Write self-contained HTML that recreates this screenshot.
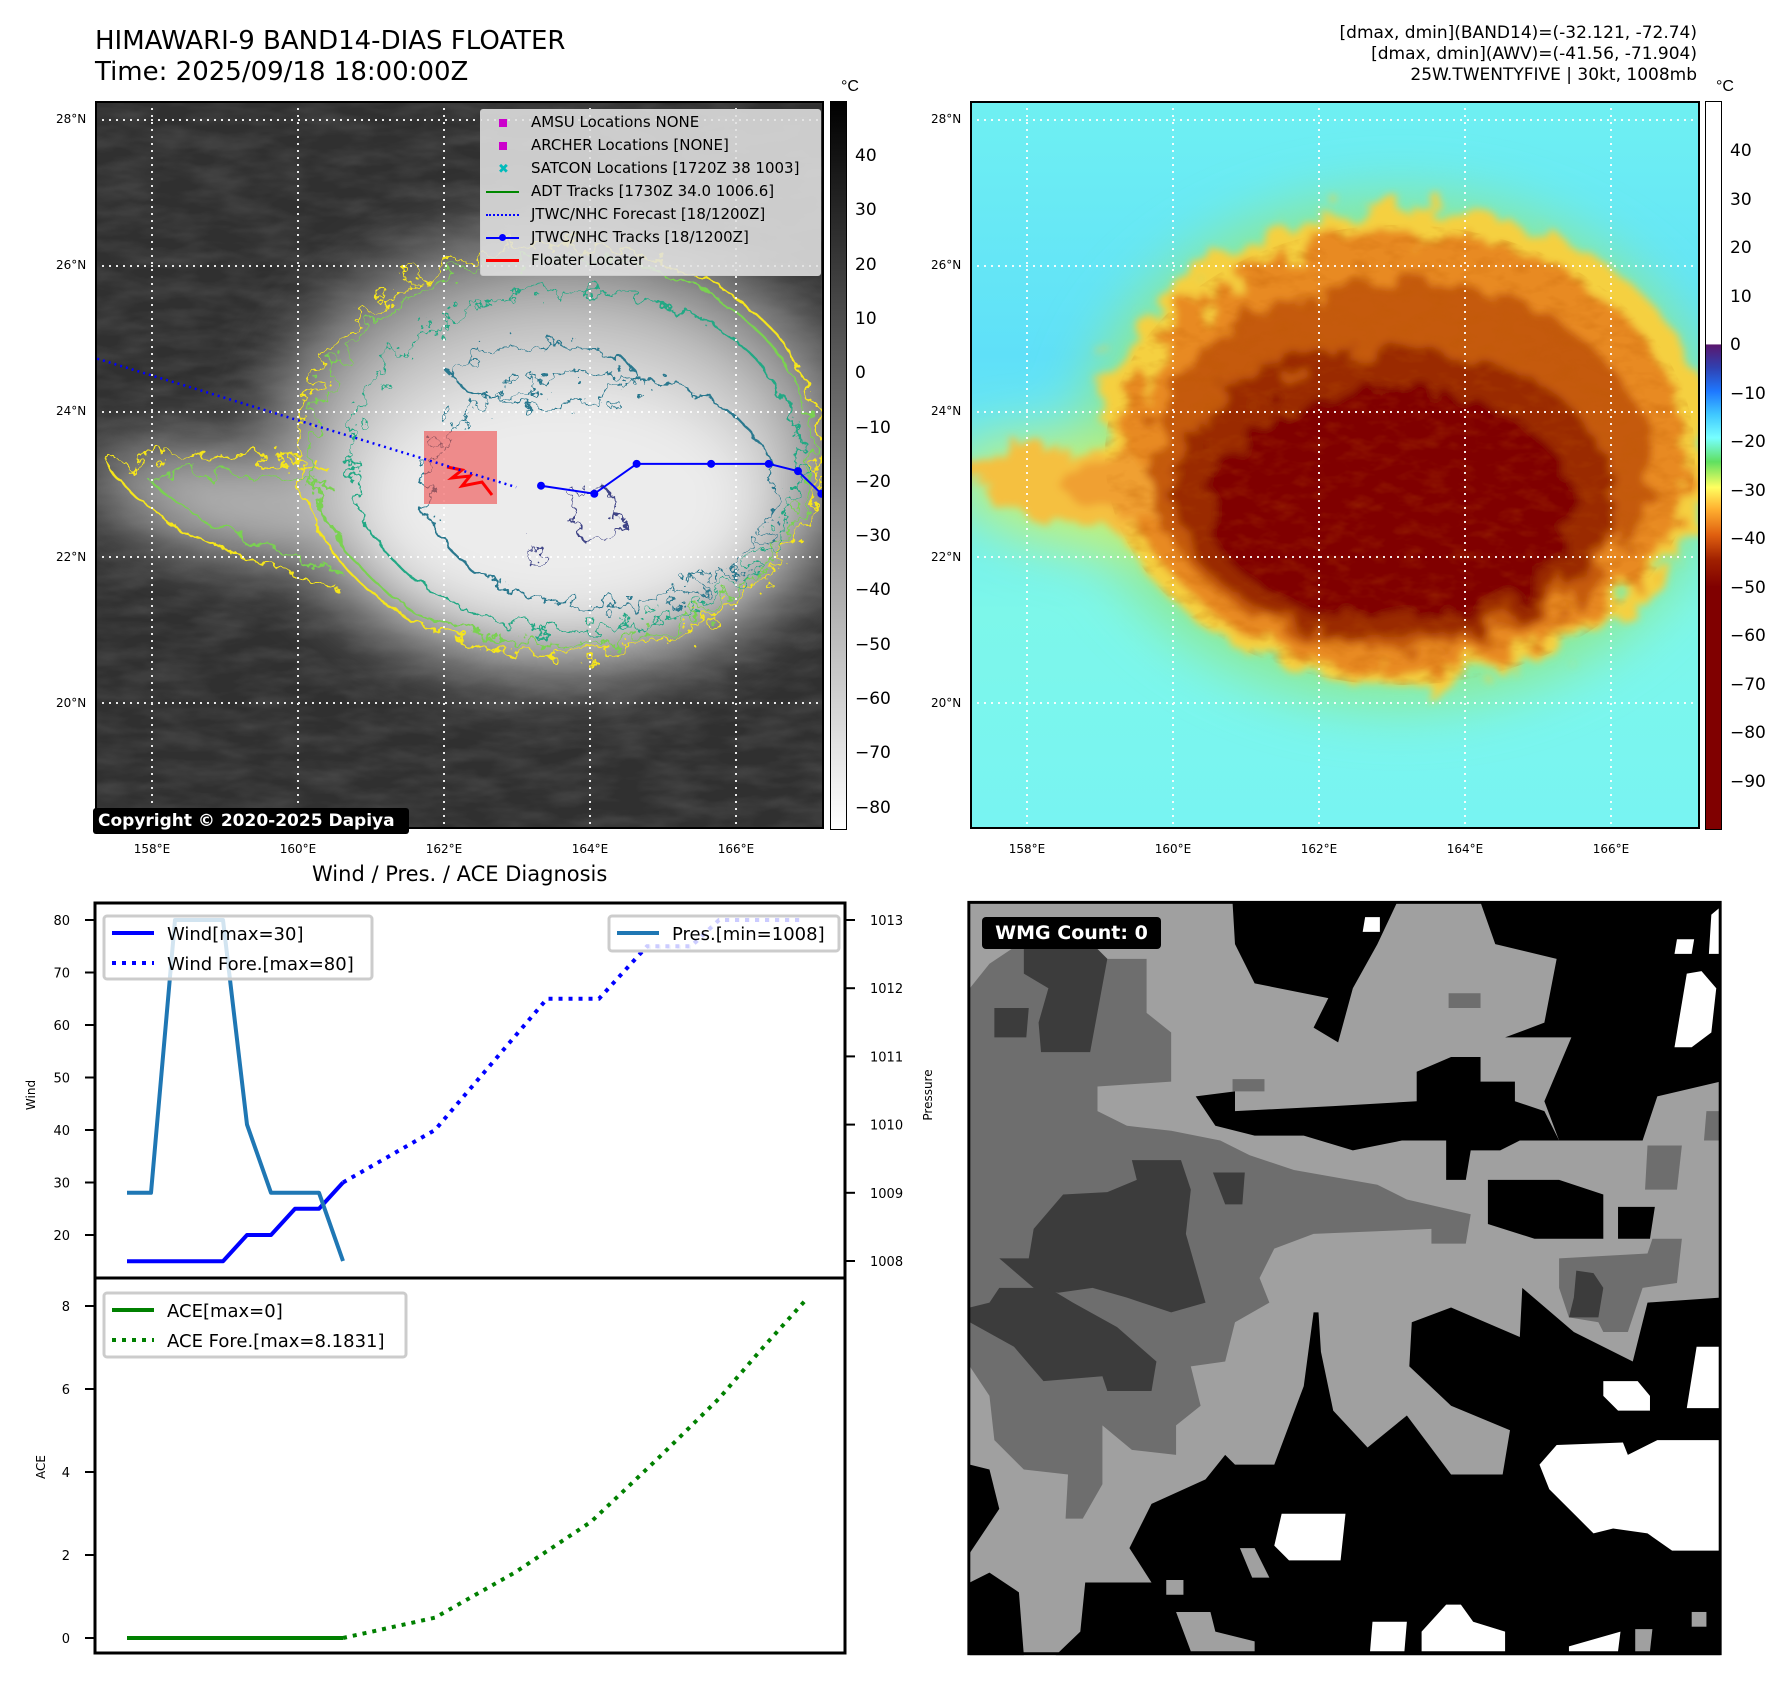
<!DOCTYPE html>
<html><head><meta charset="utf-8">
<style>
html,body{margin:0;padding:0;background:#fff;}
body{width:1788px;height:1690px;position:relative;overflow:hidden;font-family:"Liberation Sans","DejaVu Sans",sans-serif;}
.t{position:absolute;white-space:nowrap;color:#000;}
svg{position:absolute;overflow:hidden;}
</style></head>
<body>
<div class="t" style="left:95px;top:26px;font-size:26px;line-height:31px;font-family:'DejaVu Sans',sans-serif;">HIMAWARI-9 BAND14-DIAS FLOATER<br>Time: 2025/09/18 18:00:00Z</div>
<div class="t" style="right:91px;top:23px;font-size:17px;line-height:21px;text-align:right;font-family:'DejaVu Sans',sans-serif;">[dmax, dmin](BAND14)=(-32.121, -72.74)<br>[dmax, dmin](AWV)=(-41.56, -71.904)<br>25W.TWENTYFIVE | 30kt, 1008mb</div>

<!-- LEFT MAP -->
<svg style="left:95px;top:101px" width="729" height="728" viewBox="95 101 729 728">
<defs>
<filter id="b30" x="-50%" y="-50%" width="200%" height="200%"><feGaussianBlur stdDeviation="30"/></filter>
<filter id="wig" x="-20%" y="-20%" width="140%" height="140%"><feTurbulence type="fractalNoise" baseFrequency="0.05" numOctaves="4" seed="3"/><feDisplacementMap in="SourceGraphic" scale="40"/></filter>
<filter id="wig2" x="-20%" y="-20%" width="140%" height="140%"><feTurbulence type="fractalNoise" baseFrequency="0.06" numOctaves="4" seed="8"/><feDisplacementMap in="SourceGraphic" scale="45"/></filter>
<filter id="tex" x="0" y="0" width="100%" height="100%"><feTurbulence type="fractalNoise" baseFrequency="0.02 0.06" numOctaves="3" seed="5"/><feColorMatrix type="matrix" values="0 0 0 0 1  0 0 0 0 1  0 0 0 0 1  0.9 0 0 0 -0.3"/></filter>
</defs>
<rect x="95" y="101" width="729" height="728" fill="#303030"/>
<rect x="95" y="101" width="729" height="728" filter="url(#tex)" opacity="0.2"/>
<g filter="url(#b30)">
<ellipse cx="560" cy="455" rx="300" ry="230" fill="#8a8a8a"/>
<ellipse cx="230" cy="505" rx="150" ry="55" fill="#8a8a8a" transform="rotate(12 230 505)"/>
<ellipse cx="560" cy="470" rx="240" ry="175" fill="#c8c8c8"/>
<ellipse cx="250" cy="505" rx="110" ry="35" fill="#b8b8b8" transform="rotate(12 250 505)"/>
<ellipse cx="560" cy="500" rx="200" ry="125" fill="#ececec"/>
</g>
<g fill="none" stroke-width="2.2">
<g filter="url(#wig)">
<ellipse cx="560" cy="450" rx="262" ry="205" stroke="#f5e51b"/>
<path d="M330 470 C250 450 160 450 110 465 C130 510 230 560 340 590" stroke="#f5e51b"/>
<ellipse cx="562" cy="452" rx="250" ry="195" stroke="#7ad151"/>
<path d="M330 485 C260 470 190 470 150 480 C180 515 250 545 340 570" stroke="#7ad151"/>
</g>
<g filter="url(#wig2)">
<ellipse cx="575" cy="460" rx="225" ry="170" stroke="#22a884"/>
<ellipse cx="600" cy="490" rx="175" ry="115" stroke="#2a788e"/>
<ellipse cx="545" cy="375" rx="90" ry="30" stroke="#2a788e"/>
<ellipse cx="595" cy="515" rx="22" ry="30" stroke="#414487"/>
<ellipse cx="535" cy="555" rx="12" ry="8" stroke="#414487"/>
</g>
</g>
<g stroke="#fff" stroke-width="2" stroke-dasharray="2 5" opacity="0.9">
<line x1="95" y1="120" x2="824" y2="120"/><line x1="95" y1="266" x2="824" y2="266"/><line x1="95" y1="412" x2="824" y2="412"/><line x1="95" y1="557" x2="824" y2="557"/><line x1="95" y1="703" x2="824" y2="703"/>
<line x1="152" y1="101" x2="152" y2="829"/><line x1="298" y1="101" x2="298" y2="829"/><line x1="444" y1="101" x2="444" y2="829"/><line x1="590" y1="101" x2="590" y2="829"/><line x1="736" y1="101" x2="736" y2="829"/>
</g>
<rect x="424" y="431" width="73" height="73" fill="rgba(240,60,60,0.55)"/>
<path d="M447 467 L462 470 L452 478 L470 476 L462 486 L482 482 L492 495" fill="none" stroke="#f00" stroke-width="3"/>
<g id="trackLayer"></g>
<rect x="96" y="102" width="727" height="726" fill="none" stroke="#000" stroke-width="2"/>
</svg>
<div style="position:absolute;left:480px;top:109px;width:339px;height:165px;background:rgba(225,225,225,0.88);border:1px solid #ccc;border-radius:3px;font-size:15px;font-family:'DejaVu Sans',sans-serif;">
<div class="t" style="left:18px;top:3px;"><span style="display:inline-block;width:8px;height:8px;background:#c0c;margin-right:24px;"></span>AMSU Locations NONE</div>
<div class="t" style="left:18px;top:26px;"><span style="display:inline-block;width:8px;height:8px;background:#c0c;margin-right:24px;"></span>ARCHER Locations [NONE]</div>
<div class="t" style="left:17px;top:49px;"><span style="display:inline-block;width:12px;color:#0bb;font-weight:bold;font-size:13px;margin-right:21px;">✖</span>SATCON Locations [1720Z 38 1003]</div>
<div class="t" style="left:5px;top:72px;"><span style="display:inline-block;width:33px;height:2px;background:#080;vertical-align:middle;margin-right:12px;"></span>ADT Tracks [1730Z 34.0 1006.6]</div>
<div class="t" style="left:5px;top:95px;"><span style="display:inline-block;width:33px;border-top:2px dotted #00f;vertical-align:middle;margin-right:12px;"></span>JTWC/NHC Forecast [18/1200Z]</div>
<div class="t" style="left:5px;top:118px;"><span style="display:inline-block;width:33px;height:2px;background:#00f;vertical-align:middle;margin-right:12px;position:relative;"><span style="position:absolute;left:13px;top:-3px;width:7px;height:7px;border-radius:50%;background:#00f;"></span></span>JTWC/NHC Tracks [18/1200Z]</div>
<div class="t" style="left:5px;top:141px;"><span style="display:inline-block;width:33px;height:3px;background:#f00;vertical-align:middle;margin-right:12px;"></span>Floater Locater</div>
</div>
<div class="t" style="left:93px;top:808px;width:316px;height:26px;background:#000;color:#fff;font-weight:bold;font-size:17px;line-height:26px;border-radius:3px;padding-left:5px;box-sizing:border-box;font-family:'DejaVu Sans',sans-serif;">Copyright © 2020-2025 Dapiya</div>
<div style="position:absolute;left:830px;top:101px;width:15px;height:727px;border:1px solid #000;background:linear-gradient(#000,#fff);"></div>
<div class="t" style="left:841px;top:78px;font-size:16px;">°C</div>

<!-- RIGHT MAP -->
<svg style="left:970px;top:101px" width="730" height="728" viewBox="970 101 730 728">
<defs>
<linearGradient id="cy" x1="0" y1="0" x2="0" y2="1"><stop offset="0" stop-color="#6ff0f2"/><stop offset="0.35" stop-color="#5fe0f8"/><stop offset="0.7" stop-color="#7df7ea"/><stop offset="1" stop-color="#78f4f2"/></linearGradient>
<filter id="rb30" x="-50%" y="-50%" width="200%" height="200%"><feGaussianBlur stdDeviation="28"/></filter>
<filter id="rwig" x="-20%" y="-20%" width="140%" height="140%"><feTurbulence type="fractalNoise" baseFrequency="0.035" numOctaves="4" seed="11"/><feDisplacementMap in="SourceGraphic" scale="55"/><feGaussianBlur stdDeviation="4"/></filter>
<filter id="rtex" x="0" y="0" width="100%" height="100%"><feTurbulence type="fractalNoise" baseFrequency="0.04 0.08" numOctaves="3" seed="21"/><feColorMatrix type="matrix" values="0 0 0 0 0.5  0 0 0 0 0.1  0 0 0 0 0  1.2 0 0 0 -0.55"/></filter>
<clipPath id="cloudclip"><ellipse cx="1400" cy="455" rx="295" ry="230"/></clipPath>
</defs>
<rect x="970" y="101" width="730" height="728" fill="url(#cy)"/>
<g filter="url(#rb30)">
<ellipse cx="1400" cy="450" rx="320" ry="255" fill="#8fe890"/>
<ellipse cx="1100" cy="495" rx="150" ry="55" fill="#c8f070" transform="rotate(8 1100 495)"/>
</g>
<g filter="url(#rwig)">
<ellipse cx="1405" cy="445" rx="305" ry="240" fill="#f5d040"/>
<ellipse cx="1110" cy="495" rx="140" ry="40" fill="#f5c040" transform="rotate(8 1110 495)"/>
<ellipse cx="1405" cy="452" rx="282" ry="218" fill="#e88a20"/>
<ellipse cx="1150" cy="490" rx="95" ry="28" fill="#f0a030" transform="rotate(8 1150 490)"/>
<ellipse cx="1400" cy="465" rx="250" ry="185" fill="#c55a10"/>
<ellipse cx="1395" cy="495" rx="220" ry="145" fill="#9a2a05"/>
<ellipse cx="1390" cy="505" rx="185" ry="115" fill="#800000"/>
</g>
<rect x="970" y="101" width="730" height="728" filter="url(#rtex)" clip-path="url(#cloudclip)" opacity="0.5"/>
<g stroke="#fff" stroke-width="2" stroke-dasharray="2 5" opacity="0.9">
<line x1="970" y1="120" x2="1700" y2="120"/><line x1="970" y1="266" x2="1700" y2="266"/><line x1="970" y1="412" x2="1700" y2="412"/><line x1="970" y1="557" x2="1700" y2="557"/><line x1="970" y1="703" x2="1700" y2="703"/>
<line x1="1027" y1="101" x2="1027" y2="829"/><line x1="1173" y1="101" x2="1173" y2="829"/><line x1="1319" y1="101" x2="1319" y2="829"/><line x1="1465" y1="101" x2="1465" y2="829"/><line x1="1611" y1="101" x2="1611" y2="829"/>
</g>
<rect x="971" y="102" width="728" height="726" fill="none" stroke="#000" stroke-width="2"/>
</svg>
<div style="position:absolute;left:1705px;top:101px;width:15px;height:727px;border:1px solid #000;background:linear-gradient(#fff 0%,#fff 33.3%,#5a176e 33.4%,#3040b0 36.5%,#1e78ff 39.8%,#40c8ff 43%,#7ff 46.2%,#60e060 49.5%,#ffff60 53%,#ffb030 56%,#e06010 59.5%,#a02000 63%,#800000 66.7%,#800000 100%);"></div>
<div class="t" style="left:1716px;top:78px;font-size:16px;">°C</div>

<!-- diagnosis chart -->
<div class="t" style="left:312px;top:862px;font-size:21px;font-family:'DejaVu Sans',sans-serif;">Wind / Pres. / ACE Diagnosis</div>
<svg id="diag" style="left:0;top:0" width="1000" height="1690"></svg>

<!-- WMG panel -->
<svg style="left:960px;top:895px" width="770" height="770" viewBox="0 0 1568 1568">
<rect x="18" y="15" width="1530" height="1530" fill="#a0a0a0"/>
<g fill="#6e6e6e">
<polygon points="20,190 60,140 120,100 270,100 300,130 380,130 380,240 430,280 430,380 280,390 280,440 340,470 430,480 530,500 590,530 680,560 850,590 910,620 1040,650 1030,710 960,710 960,680 720,690 640,720 610,780 630,830 560,870 540,950 470,960 490,1040 440,1080 440,1140 350,1130 290,1080 290,1200 250,1270 215,1270 220,1180 130,1170 70,1110 60,1020 20,960"/>
<polygon points="1220,740 1400,730 1410,700 1470,700 1460,790 1390,800 1360,890 1310,890 1300,870 1240,860 1220,800"/>
<polygon points="1400,510 1470,510 1460,600 1395,600"/><polygon points="995,200 1060,200 1060,230 995,230"/><polygon points="555,375 620,375 620,400 555,400"/><polygon points="1520,440 1548,440 1548,500 1515,500"/>
</g>
<g fill="#3c3c3c">
<polygon points="130,100 270,100 300,130 265,320 165,320 160,260 180,190 130,160"/>
<polygon points="70,230 140,230 135,290 70,290"/>
<polygon points="350,540 450,540 470,600 460,690 500,830 430,850 340,820 270,800 200,810 150,800 80,740 140,740 150,680 210,610 300,605 360,580"/>
<polygon points="20,840 60,830 80,800 180,800 230,830 320,880 400,950 390,1010 300,1010 290,980 170,990 110,920 20,870"/>
<polygon points="515,565 580,565 575,630 540,630"/>
<polygon points="1255,765 1290,770 1310,800 1300,860 1240,860 1250,820"/>
</g>
<g fill="#000">
<polygon points="555,15 890,15 850,100 800,190 770,300 720,270 750,210 600,180 560,100"/>
<polygon points="1060,15 1548,15 1548,380 1420,410 1390,500 1220,500 1190,420 1245,290 1110,290 1190,260 1215,130 1090,100"/>
<polygon points="480,410 560,400 560,440 760,430 930,420 930,360 1000,330 1060,330 1060,380 1130,380 1130,420 1190,440 1220,500 1140,500 1100,520 1040,520 1030,580 990,580 990,500 900,500 800,520 700,490 600,490 520,470"/>
<polygon points="1075,580 1220,580 1310,610 1310,700 1170,700 1075,670"/>
<polygon points="1340,635 1415,635 1405,700 1340,700"/>
<polygon points="1548,820 1400,830 1370,950 1250,890 1145,800 1140,900 1000,840 920,870 915,960 1000,1040 1120,1090 1105,1180 1000,1180 910,1060 830,1125 760,1050 735,930 730,850 720,850 700,1000 640,1160 560,1160 540,1140 500,1190 390,1240 345,1330 390,1400 255,1400 245,1500 195,1548 1548,1548"/>
<polygon points="20,1160 60,1170 80,1250 20,1340"/>
<polygon points="20,1400 60,1380 120,1420 130,1548 20,1548"/>
</g>
<g fill="#a0a0a0"><polygon points="440,1460 510,1460 520,1500 600,1520 600,1540 470,1540"/><polygon points="420,1395 455,1395 455,1425 420,1425"/><polygon points="570,1330 600,1330 630,1390 595,1390"/><polygon points="1375,1495 1410,1495 1405,1540 1375,1540"/><polygon points="1490,1460 1520,1460 1520,1490 1490,1490"/></g>
<g fill="#fff">
<polygon points="1215,1120 1350,1115 1360,1140 1420,1110 1548,1110 1548,1335 1450,1335 1400,1300 1330,1290 1290,1300 1260,1270 1200,1210 1180,1160"/>
<polygon points="655,1260 785,1260 775,1355 670,1355 640,1325"/>
<polygon points="1310,990 1380,990 1405,1020 1405,1050 1340,1050 1310,1020"/>
<polygon points="1500,920 1548,920 1548,1045 1480,1045"/>
<polygon points="1480,160 1510,155 1540,190 1530,280 1490,310 1455,310"/>
<polygon points="1460,90 1495,90 1490,120 1455,120"/>
<polygon points="1530,40 1548,25 1548,120 1525,120"/>
<polygon points="825,45 855,45 855,75 820,75"/>
<polygon points="840,1480 910,1480 905,1540 835,1540"/>
<polygon points="940,1500 990,1445 1020,1445 1045,1480 1110,1500 1110,1540 940,1540"/>
<polygon points="1240,1530 1345,1500 1340,1540 1240,1540"/>
</g>
<rect x="18" y="15" width="1530" height="1530" fill="none" stroke="#000" stroke-width="6"/>
</svg>
<div class="t" style="left:982px;top:917px;width:179px;height:32px;background:#000;color:#fff;font-weight:bold;font-size:19px;line-height:32px;border-radius:4px;text-align:center;font-family:'DejaVu Sans',sans-serif;">WMG Count: 0</div>

<div id="labels"></div>

<script>
// ---- Diagnosis chart data ----
const obsHours = [0, 6, 12, 18, 24, 30, 36, 42, 48, 54];
const windObs = [15, 15, 15, 15, 15, 20, 20, 25, 25, 30];
const presObs = [1009, 1009, 1013, 1013, 1013, 1010, 1009, 1009, 1009, 1008];
const windForeHours = [54, 77, 105, 118, 130, 141, 148, 169];
const windFore = [30, 40, 65, 65, 75, 75, 80, 80];
const presForeHours = [130, 141, 148, 169];
const presFore = [1012.6, 1012.6, 1013, 1013];
const aceObsHours = [0, 54];
const aceObs = [0, 0];
const aceForeHours = [54, 77, 97, 116, 133, 148, 159, 170];
const aceFore = [0, 0.49, 1.58, 2.8, 4.35, 5.77, 7.0, 8.18];
const windTicks = [20, 30, 40, 50, 60, 70, 80];
const presTicks = [1008, 1009, 1010, 1011, 1012, 1013];
const aceTicks = [0, 2, 4, 6, 8];
const lonTicks = [158, 160, 162, 164, 166];
const latTicks = [20, 22, 24, 26, 28];
const bwTicks = [-80, -70, -60, -50, -40, -30, -20, -10, 0, 10, 20, 30, 40];
const awvTicks = [-90, -80, -70, -60, -50, -40, -30, -20, -10, 0, 10, 20, 30, 40];
const trackLon = [163.33, 164.06, 164.64, 165.66, 166.45, 166.85, 167.17];
const trackLat = [22.99, 22.88, 23.29, 23.29, 23.29, 23.19, 22.88];
const foreLon = [157.25, 162.99];
const foreLat = [24.73, 22.97];

const NS = 'http://www.w3.org/2000/svg';
const X = h => 127 + h * 4;
const YW = v => 920 + (80 - v) * 5.25;
const YP = v => 1261 - (v - 1008) * 68.2;
const YA = v => 1638 - v * 41.5;
const lonX = l => 95 + (l - 157.22) * 73;
const latY = l => 120 + (28 - l) * 73;

function mk(parent, tag, attrs) {
  const e = document.createElementNS(NS, tag);
  for (const k in attrs) e.setAttribute(k, attrs[k]);
  parent.appendChild(e);
  return e;
}
function pts(hs, vs, fy) { return hs.map((h, i) => X(h) + ',' + fy(vs[i])).join(' '); }

const svg = document.getElementById('diag');
let r1 = mk(svg, 'rect', {x: 95, y: 903, width: 750, height: 375, fill: 'none', stroke: '#000', 'stroke-width': 3});


let r2 = mk(svg, 'rect', {x: 95, y: 1278, width: 750, height: 375, fill: 'none', stroke: '#000', 'stroke-width': 3});



function addText(x, y, txt, anchor, size, name, rot) {
  const t = mk(svg, 'text', {x: x, y: y, 'font-size': size, 'text-anchor': anchor, 'font-family': 'DejaVu Sans, Liberation Sans, sans-serif', fill: '#000'});
  if (rot) t.setAttribute('transform', 'rotate(-90 ' + x + ' ' + y + ')');
  t.textContent = txt;
  
  
  return t;
}
windTicks.forEach(v => {
  const l = mk(svg, 'line', {x1: 85, x2: 95, y1: YW(v), y2: YW(v), stroke: '#000', 'stroke-width': 2});
  
  
  addText(70, YW(v) + 5, String(v), 'end', 13, 'wind-tick-label');
});
presTicks.forEach(v => {
  const l = mk(svg, 'line', {x1: 845, x2: 855, y1: YP(v), y2: YP(v), stroke: '#000', 'stroke-width': 2});
  
  
  addText(870, YP(v) + 5, String(v), 'start', 13, 'pressure-tick-label');
});
aceTicks.forEach(v => {
  const l = mk(svg, 'line', {x1: 85, x2: 95, y1: YA(v), y2: YA(v), stroke: '#000', 'stroke-width': 2});
  
  
  addText(70, YA(v) + 5, String(v), 'end', 13, 'ace-tick-label');
});
addText(35, 1095, 'Wind', 'middle', 12, 'wind-axis-title', true);
addText(932, 1095, 'Pressure', 'middle', 12, 'pressure-axis-title', true);
addText(45, 1467, 'ACE', 'middle', 12, 'ace-axis-title', true);

let s;
s = mk(svg, 'polyline', {points: pts(presForeHours, presFore, YP), fill: 'none', stroke: '#c8d2f4', 'stroke-width': 4, 'stroke-dasharray': '4 6'});


s = mk(svg, 'polyline', {points: pts(windForeHours, windFore, YW), fill: 'none', stroke: '#0000ff', 'stroke-width': 4, 'stroke-dasharray': '4 6'});


s = mk(svg, 'polyline', {points: pts(obsHours, windObs, YW), fill: 'none', stroke: '#0000ff', 'stroke-width': 4, 'stroke-linejoin': 'round'});


s = mk(svg, 'polyline', {points: pts(obsHours, presObs, YP), fill: 'none', stroke: '#1f77b4', 'stroke-width': 4, 'stroke-linejoin': 'round'});


s = mk(svg, 'polyline', {points: pts(aceForeHours, aceFore, YA), fill: 'none', stroke: '#008000', 'stroke-width': 4, 'stroke-dasharray': '4 6'});


s = mk(svg, 'polyline', {points: pts(aceObsHours, aceObs, YA), fill: 'none', stroke: '#008000', 'stroke-width': 4});



function legend(x, y, w, h, entries, name) {
  const g = mk(svg, 'g', {});
  
  
  mk(g, 'rect', {x: x, y: y, width: w, height: h, rx: 3, fill: 'rgba(255,255,255,0.8)', stroke: '#ccc', 'stroke-width': 3});
  entries.forEach((e, i) => {
    const yy = y + 17 + i * 30;
    const ln = mk(g, 'line', {x1: x + 8, x2: x + 50, y1: yy, y2: yy, stroke: e[1], 'stroke-width': 4});
    if (e[2]) ln.setAttribute('stroke-dasharray', '4 6');
    const t = mk(g, 'text', {x: x + 63, y: yy + 7, 'font-size': 18, 'font-family': 'DejaVu Sans, Liberation Sans, sans-serif'});
    t.textContent = e[0];
    
    
  });
}
legend(104, 916, 268, 63, [['Wind[max=30]', '#0000ff', false], ['Wind Fore.[max=80]', '#0000ff', true]], 'wind-legend');
legend(609, 916, 230, 35, [['Pres.[min=1008]', '#1f77b4', false]], 'pressure-legend');
legend(104, 1293, 302, 64, [['ACE[max=0]', '#008000', false], ['ACE Fore.[max=8.1831]', '#008000', true]], 'ace-legend');

const lab = document.getElementById('labels');
function div(x, y, txt, size, name, align) {
  const d = document.createElement('div');
  d.className = 't';
  d.style.left = x + 'px'; d.style.top = y + 'px'; d.style.fontSize = size + 'px';
  d.style.fontFamily = "'DejaVu Sans', sans-serif";
  if (align) d.style.transform = align;
  d.textContent = txt;
  
  
  lab.appendChild(d);
}
latTicks.forEach(v => {
  div(56, latY(v) - 8, v + '°N', 12, 'left-lat-label');
  div(931, latY(v) - 8, v + '°N', 12, 'right-lat-label');
});
lonTicks.forEach(v => {
  div(lonX(v), 842, v + '°E', 12, 'left-lon-label', 'translateX(-50%)');
  div(lonX(v) + 875, 842, v + '°E', 12, 'right-lon-label', 'translateX(-50%)');
});
bwTicks.forEach(v => div(855, 156 + (40 - v) * 5.43 - 10, (v < 0 ? '−' : '') + Math.abs(v), 17, 'left-colorbar-label'));
awvTicks.forEach(v => div(1730, 151 + (40 - v) * 4.85 - 10, (v < 0 ? '−' : '') + Math.abs(v), 17, 'right-colorbar-label'));

const tl = document.getElementById('trackLayer');
let f = mk(tl, 'polyline', {points: foreLon.map((l, i) => lonX(l) + ',' + latY(foreLat[i])).join(' '), fill: 'none', stroke: '#0000ff', 'stroke-width': 2.5, 'stroke-dasharray': '2 4'});


let tr = mk(tl, 'polyline', {points: trackLon.map((l, i) => lonX(l) + ',' + latY(trackLat[i])).join(' '), fill: 'none', stroke: '#0000ff', 'stroke-width': 2});


trackLon.forEach((l, i) => {
  const c = mk(tl, 'circle', {cx: lonX(l), cy: latY(trackLat[i]), r: 4, fill: '#0000ff'});
  
  
});
</script>
</body></html>
